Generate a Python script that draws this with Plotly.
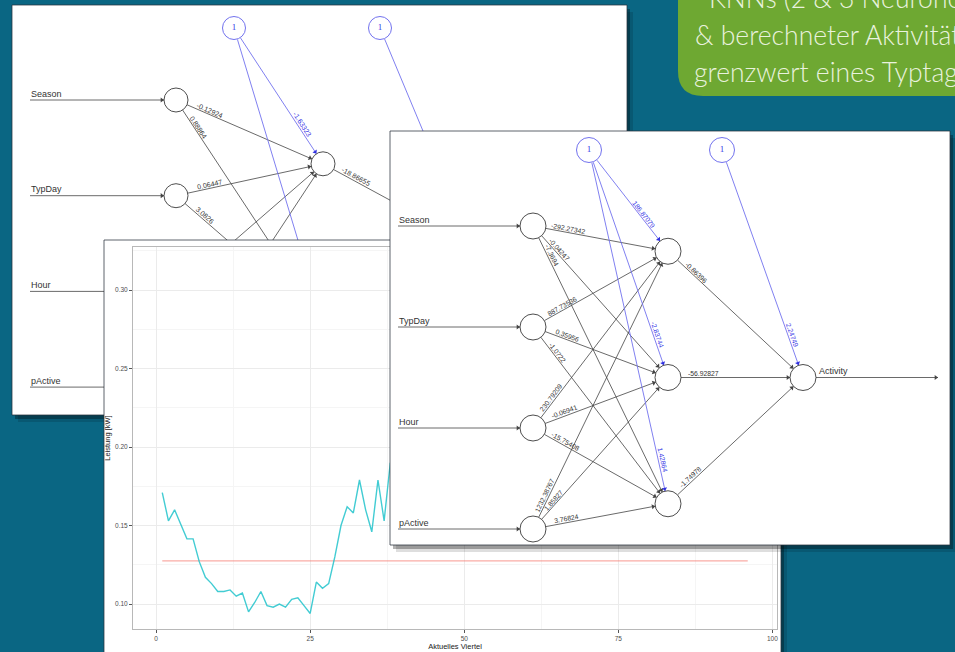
import math
import plotly.graph_objects as go

W, H = 955, 652

# ------------------------------------------------------------------ data
quarters = list(range(1, 97))
leistung = [0.171, 0.153, 0.160, 0.151, 0.1415, 0.1415, 0.127, 0.117, 0.113, 0.108,
            0.108, 0.109, 0.105, 0.107, 0.095, 0.101, 0.108, 0.099, 0.098, 0.100,
            0.098, 0.103, 0.104, 0.099, 0.094, 0.114, 0.110, 0.113, 0.130, 0.150,
            0.162, 0.158, 0.179, 0.160, 0.146, 0.179, 0.153, 0.190, 0.185, 0.201,
            0.194, 0.210, 0.188, 0.176, 0.192, 0.205, 0.221, 0.236, 0.228, 0.214,
            0.198, 0.187, 0.179, 0.183, 0.175, 0.168, 0.172, 0.181, 0.177, 0.169,
            0.174, 0.186, 0.195, 0.207, 0.219, 0.233, 0.248, 0.262, 0.271, 0.289,
            0.302, 0.316, 0.298, 0.284, 0.276, 0.263, 0.257, 0.244, 0.239, 0.227,
            0.221, 0.214, 0.205, 0.198, 0.193, 0.186, 0.181, 0.176, 0.171, 0.168,
            0.164, 0.161, 0.158, 0.163, 0.167, 0.171]
grenz_x = [1, 96]
grenz_y = [0.1275, 0.1275]
x_ticks = [0, 25, 50, 75, 100]
y_ticks = [0.10, 0.15, 0.20, 0.25, 0.30]
x_title = "Aktuelles Viertel"
y_title = "Leistung [kW]"

inputs = ["Season", "TypDay", "Hour", "pActive"]
output_name = "Activity"

# network with 2 hidden neurons (None = label not readable / hidden)
w2_in_hidden = [[-0.12924, 0.88864], [0.06447, 3.0826], [None, None], [None, None]]
w2_bias_hidden = [-1.63323, None]
w2_hidden_out = [-18.86655, None]
w2_bias_out = None

# network with 3 hidden neurons
w3_in_hidden = [[-292.27342, -0.04247, -7.3694],
                [887.73536, 0.35956, -1.0722],
                [230.79209, -0.06941, -15.75408],
                [1232.38767, 1.85827, 3.76824]]
w3_bias_hidden = [186.87079, -2.83744, 1.42864]
w3_hidden_out = [-0.86396, -56.92827, -1.74978]
w3_bias_out = 2.24749

title_lines = ["KNNs (2 & 3 Neuronen)", "& berechneter Aktivitäts-", "grenzwert eines Typtages"]

# ------------------------------------------------------------------ style
TEAL = "#0a6683"
GREEN = "#6ea832"
FONT = "Liberation Sans"
EDGE = "#444444"
BLUE_EDGE = "#7272ee"
BLUE_TXT = "#3434e6"

fig = go.Figure()
annotations = []
shapes = []


def panel(ax, box):
    x0, y0, x1, y1 = box
    for off, col in [((6, 7), "rgba(0,0,0,0.13)"), ((3, 4), "rgba(0,0,0,0.30)")]:
        dx, dy = off
        fig.add_trace(go.Scatter(x=[x0 + dx, x1 + dx, x1 + dx, x0 + dx, x0 + dx],
                                 y=[y0 + dy, y0 + dy, y1 + dy, y1 + dy, y0 + dy],
                                 fill="toself", fillcolor=col, mode="lines",
                                 line=dict(width=0), hoverinfo="skip",
                                 xaxis="x" + ax, yaxis="y" + ax))
    fig.add_trace(go.Scatter(x=[x0, x1, x1, x0, x0], y=[y0, y0, y1, y1, y0],
                             fill="toself", fillcolor="white", mode="lines",
                             line=dict(width=1, color="rgba(40,50,60,0.75)"),
                             hoverinfo="skip", xaxis="x" + ax, yaxis="y" + ax))


def fmt(w):
    return repr(w)


def draw_net(ax, cfg, w_in_hid, w_b_hid, w_hid_out, w_b_out):
    nh = len(w_b_hid)
    r = cfg["r"]

    def ny(i, n):
        return cfg["top"] + (i + 1) / (n + 1) * cfg["span"]

    pin = [(cfg["x_in"], ny(i, len(inputs))) for i in range(len(inputs))]
    phid = [(cfg["x_in"] + cfg["dx"], ny(j, nh)) for j in range(nh)]
    pout = (cfg["x_in"] + 2 * cfg["dx"], ny(0, 1))
    pb1 = (cfg["bias_x"][0], cfg["bias_y"])
    pb2 = (cfg["bias_x"][1], cfg["bias_y"])

    lines = {"k": ([], []), "b": ([], [])}
    heads = {"k": ([], [], []), "b": ([], [], [])}

    def edge(p, q, kind, rs=r, rq=r):
        dx, dy = q[0] - p[0], q[1] - p[1]
        L = math.hypot(dx, dy)
        ux, uy = dx / L, dy / L
        s = (p[0] + rs * ux, p[1] + rs * uy)
        e = (q[0] - rq * ux, q[1] - rq * uy)
        lx, ly = lines[kind]
        lx += [s[0], e[0], None]
        ly += [s[1], e[1], None]
        hx, hy, ha = heads[kind]
        hx.append(e[0] - 2.2 * ux)
        hy.append(e[1] - 2.2 * uy)
        ha.append(math.degrees(math.atan2(dy, dx)))
        return ux, uy

    def label(p, ux, uy, d, w, color):
        if w is None:
            return
        nx, nyv = uy, -ux
        off = 4
        ang = math.degrees(math.atan2(uy, ux))
        annotations.append(dict(x=p[0] + d * ux + off * nx, y=p[1] + d * uy + off * nyv,
                                xref="x" + ax, yref="y" + ax, text=fmt(w), showarrow=False,
                                textangle=ang, font=dict(size=cfg["fs"], color=color, family=FONT),
                                xanchor="center", yanchor="middle"))

    for i, p in enumerate(pin):
        edge((cfg["arrow_start"], p[1]), p, "k", rs=0)
    for i, p in enumerate(pin):
        for j, q in enumerate(phid):
            ux, uy = edge(p, q, "k")
            label(p, ux, uy, cfg["d_in"], w_in_hid[i][j], "#333333")
    for j, q in enumerate(phid):
        ux, uy = edge(pb1, q, "b")
        label(q, ux, uy, -cfg["d_bias"], w_b_hid[j], BLUE_TXT)
    for j, q in enumerate(phid):
        ux, uy = edge(q, pout, "k")
        label(q, ux, uy, cfg["d_in"], w_hid_out[j], "#333333")
    ux, uy = edge(pb2, pout, "b")
    label(pout, ux, uy, -cfg["d_bias"], w_b_out, BLUE_TXT)
    edge(pout, (cfg["out_end"], pout[1]), "k", rq=0)

    for kind, col, wdt in [("k", EDGE, 0.8), ("b", BLUE_EDGE, 0.9)]:
        lx, ly = lines[kind]
        fig.add_trace(go.Scatter(x=lx, y=ly, mode="lines", line=dict(color=col, width=wdt),
                                 hoverinfo="skip", xaxis="x" + ax, yaxis="y" + ax))
        hx, hy, ha = heads[kind]
        fig.add_trace(go.Scatter(x=hx, y=hy, mode="markers",
                                 marker=dict(symbol="triangle-right", size=4.5, angle=ha,
                                             color=col if kind == "k" else "#3030e0",
                                             line=dict(width=0)),
                                 hoverinfo="skip", xaxis="x" + ax, yaxis="y" + ax))
    nodes = pin + phid + [pout]
    fig.add_trace(go.Scatter(x=[p[0] for p in nodes], y=[p[1] for p in nodes], mode="markers",
                             marker=dict(size=2 * r, color="white", line=dict(color="#3a3a3a", width=0.9)),
                             hoverinfo="skip", xaxis="x" + ax, yaxis="y" + ax))
    fig.add_trace(go.Scatter(x=[pb1[0], pb2[0]], y=[pb1[1], pb2[1]], mode="markers+text",
                             text=["1", "1"], textposition="middle center",
                             textfont=dict(size=9, color=BLUE_TXT, family="Liberation Serif"),
                             marker=dict(size=2 * r - 1, color="white", line=dict(color=BLUE_EDGE, width=1)),
                             hoverinfo="skip", xaxis="x" + ax, yaxis="y" + ax))
    fig.add_trace(go.Scatter(x=[cfg["arrow_start"] + 1] * len(inputs) + [pout[0] + r + 3],
                             y=[p[1] - 1 for p in pin] + [pout[1] - 1],
                             text=inputs + [output_name], mode="text", textposition="top right",
                             textfont=dict(size=9, color="#333333", family=FONT),
                             hoverinfo="skip", xaxis="x" + ax, yaxis="y" + ax))


back_cfg = dict(x_in=176, dx=147, top=4.3, span=478.5, bias_x=(234, 380), bias_y=28, r=12,
                arrow_start=30, out_end=617, fs=7, d_in=35, d_bias=44)
front_cfg = dict(x_in=533, dx=135, top=125, span=505, bias_x=(589, 722), bias_y=150, r=13,
                 arrow_start=398, out_end=938, fs=6.8, d_in=35, d_bias=44)

BACK_BOX = (12, 5, 627, 415)
LINE_BOX = (104, 240, 781, 662)
FRONT_BOX = (390, 131, 950, 545)

panel("", BACK_BOX)
draw_net("2", back_cfg, w2_in_hidden, w2_bias_hidden, w2_hidden_out, w2_bias_out)
panel("3", LINE_BOX)
fig.add_trace(go.Scatter(x=grenz_x, y=grenz_y, mode="lines",
                         line=dict(color="#F8766D", width=1.4), opacity=0.6,
                         hoverinfo="skip", xaxis="x4", yaxis="y4"))
fig.add_trace(go.Scatter(x=quarters, y=leistung, mode="lines",
                         line=dict(color="#22c4cc", width=1.4), opacity=0.85,
                         hoverinfo="skip", xaxis="x4", yaxis="y4"))
panel("5", FRONT_BOX)
draw_net("6", front_cfg, w3_in_hidden, w3_bias_hidden, w3_hidden_out, w3_bias_out)

# green title box
shapes.append(dict(type="path", xref="x", yref="y", layer="below",
                   path="M 678,-10 L 678,71 Q 678,96 703,96 L 965,96 L 965,-10 Z",
                   fillcolor=GREEN, line=dict(width=0)))
for k, (txt, xs, yc) in enumerate(zip(title_lines, [707, 693, 692], [-2, 35, 72])):
    annotations.append(dict(x=xs / W, y=1 - yc / H, xref="paper", yref="paper", text=txt,
                            showarrow=False, xanchor="left", yanchor="middle",
                            font=dict(size=26.5, color="#e9f2de", family="Lato", weight=300)))

canvas = dict(range=[0, W], domain=[0, 1], visible=False, fixedrange=True)
canvas_y = dict(range=[H, 0], domain=[0, 1], visible=False, fixedrange=True)

layout = dict(width=W, height=H, margin=dict(l=0, r=0, t=0, b=0),
              paper_bgcolor=TEAL, plot_bgcolor="rgba(0,0,0,0)", showlegend=False,
              annotations=annotations, shapes=shapes)
for ax in ["", "2", "3", "5", "6"]:
    layout["xaxis" + ax] = dict(canvas, anchor="y" + ax)
    layout["yaxis" + ax] = dict(canvas_y, anchor="x" + ax)

tickfont = dict(size=6.5, color="#4d4d4d", family=FONT)
layout["xaxis4"] = dict(domain=[133 / W, 777 / W], range=[-3.75, 100.75], anchor="y4",
                        tickvals=x_ticks, ticks="outside", ticklen=3, tickcolor="#555",
                        tickfont=tickfont, showline=True, mirror=True, linecolor="#b8b8b8",
                        linewidth=1, showgrid=True, gridcolor="#ebebeb", gridwidth=1,
                        minor=dict(dtick=12.5, tick0=0, showgrid=True, gridcolor="#f5f5f5", ticks=""),
                        zeroline=False,
                        title=dict(text=x_title, font=dict(size=7.5, color="#222", family=FONT), standoff=2))
layout["yaxis4"] = dict(domain=[1 - 629 / H, 1 - 247 / H], range=[0.0841, 0.3274], anchor="x4",
                        tickvals=y_ticks, tickformat=".2f", ticks="outside", ticklen=3, tickcolor="#555",
                        tickfont=tickfont, showline=True, mirror=True, linecolor="#b8b8b8",
                        linewidth=1, showgrid=True, gridcolor="#ebebeb", gridwidth=1,
                        minor=dict(dtick=0.025, tick0=0.1, showgrid=True, gridcolor="#f5f5f5", ticks=""),
                        zeroline=False,
                        title=dict(text=y_title, font=dict(size=7.5, color="#222", family=FONT), standoff=3))

fig.update_layout(**layout)
fig.write_html("out.html")
